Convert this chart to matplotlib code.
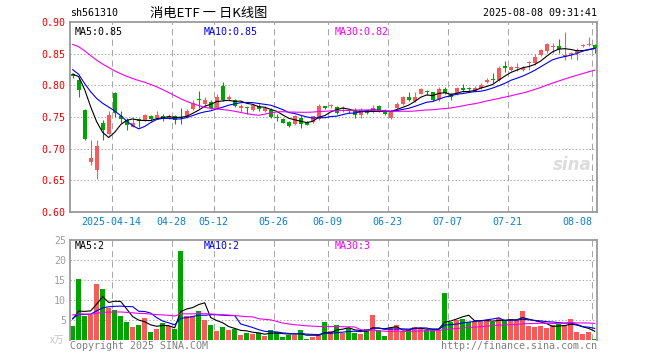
import numpy as np
import pandas as pd
import matplotlib
matplotlib.use("Agg")
import matplotlib.pyplot as plt
from matplotlib.transforms import blended_transform_factory

plt.rcParams["font.family"] = ["DejaVu Sans Mono", "Noto Sans CJK SC"]

# trading days shown: 2025-04-02 .. 2025-08-08, exchange holidays removed
holidays = ["2025-04-04", "2025-05-01", "2025-05-02", "2025-05-05", "2025-06-02"]
dates = pd.bdate_range("2025-04-02", "2025-08-08", freq="C", holidays=holidays)

opens = [0.818, 0.809, 0.761, 0.679, 0.666, 0.741, 0.723, 0.788, 0.752, 0.745,
         0.735, 0.747, 0.745, 0.752, 0.748, 0.752, 0.748, 0.752, 0.750, 0.750,
         0.763, 0.778, 0.770, 0.773, 0.765, 0.799, 0.778, 0.777, 0.765, 0.765,
         0.761, 0.768, 0.760, 0.761, 0.750, 0.747, 0.742, 0.739, 0.748, 0.742,
         0.742, 0.747, 0.766, 0.767, 0.766, 0.763, 0.760, 0.760, 0.753, 0.760,
         0.758, 0.768, 0.760, 0.748, 0.764, 0.770, 0.782, 0.775, 0.787, 0.790,
         0.789, 0.778, 0.794, 0.786, 0.786, 0.796, 0.795, 0.790, 0.796, 0.806,
         0.809, 0.809, 0.831, 0.825, 0.827, 0.824, 0.836, 0.835, 0.848, 0.855,
         0.860, 0.8625, 0.845, 0.849, 0.851, 0.862, 0.863, 0.864]
highs = [0.819, 0.812, 0.763, 0.714, 0.713, 0.745, 0.760, 0.789, 0.759, 0.749,
         0.748, 0.748, 0.754, 0.753, 0.759, 0.754, 0.755, 0.753, 0.764, 0.762,
         0.777, 0.791, 0.781, 0.777, 0.787, 0.805, 0.785, 0.778, 0.770, 0.766,
         0.770, 0.770, 0.768, 0.764, 0.755, 0.748, 0.743, 0.753, 0.753, 0.744,
         0.752, 0.771, 0.768, 0.770, 0.767, 0.768, 0.763, 0.764, 0.764, 0.761,
         0.769, 0.769, 0.763, 0.761, 0.773, 0.783, 0.790, 0.790, 0.796, 0.792,
         0.790, 0.797, 0.798, 0.788, 0.798, 0.802, 0.797, 0.799, 0.803, 0.811,
         0.820, 0.830, 0.839, 0.830, 0.835, 0.830, 0.838, 0.849, 0.857, 0.867,
         0.867, 0.873, 0.884, 0.853, 0.859, 0.865, 0.876, 0.866]
lows = [0.811, 0.781, 0.714, 0.674, 0.652, 0.713, 0.721, 0.750, 0.741, 0.730,
        0.734, 0.734, 0.744, 0.743, 0.747, 0.743, 0.747, 0.739, 0.739, 0.749,
        0.761, 0.765, 0.766, 0.762, 0.763, 0.775, 0.776, 0.766, 0.758, 0.754,
        0.760, 0.759, 0.758, 0.748, 0.743, 0.740, 0.735, 0.738, 0.733, 0.737,
        0.741, 0.746, 0.762, 0.765, 0.755, 0.758, 0.757, 0.748, 0.748, 0.755,
        0.757, 0.758, 0.753, 0.747, 0.763, 0.769, 0.775, 0.774, 0.786, 0.785,
        0.776, 0.776, 0.786, 0.777, 0.785, 0.790, 0.790, 0.789, 0.795, 0.803,
        0.804, 0.807, 0.821, 0.822, 0.822, 0.822, 0.824, 0.832, 0.847, 0.851,
        0.851, 0.851, 0.840, 0.842, 0.840, 0.860, 0.862, 0.851]
closes = [0.814, 0.793, 0.715, 0.686, 0.704, 0.730, 0.753, 0.756, 0.747, 0.738,
          0.741, 0.743, 0.753, 0.747, 0.753, 0.748, 0.752, 0.746, 0.749, 0.760,
          0.772, 0.777, 0.777, 0.764, 0.782, 0.777, 0.782, 0.768, 0.767, 0.764,
          0.769, 0.763, 0.764, 0.750, 0.749, 0.741, 0.736, 0.752, 0.739, 0.738,
          0.751, 0.768, 0.765, 0.768, 0.756, 0.764, 0.759, 0.753, 0.761, 0.756,
          0.765, 0.759, 0.754, 0.760, 0.771, 0.782, 0.777, 0.782, 0.794, 0.789,
          0.777, 0.794, 0.788, 0.781, 0.796, 0.792, 0.794, 0.796, 0.800, 0.809,
          0.808, 0.828, 0.827, 0.829, 0.828, 0.827, 0.837, 0.844, 0.856, 0.866,
          0.8625, 0.857, 0.848, 0.850, 0.856, 0.863, 0.864, 0.859]
volumes = [3.5, 15.25, 6, 6.2, 14, 12.75, 8, 7.5, 6, 4.5,
           3.2, 3.7, 5.5, 2, 2.75, 4.2, 3.5, 2.8, 22.25, 6,
           6, 7.25, 5, 3.75, 2.3, 3.25, 2.5, 2.7, 1.25, 1.75,
           1.5, 1.75, 1.0, 2.5, 2.0, 0.75, 1.25, 1.25, 2.5, 0.25,
           0.75, 1.25, 4.5, 2.25, 3.75, 1.8, 3.1, 1.75, 1.5, 2.75,
           6.25, 2.5, 1.0, 3.0, 3.75, 2.25, 2.5, 3.25, 3.0, 2.5,
           2.5, 2.5, 11.75, 4.5, 5.0, 5.25, 4.5, 4.75, 4.75, 5.0,
           4.5, 5.5, 5.0, 5.25, 5.0, 7.25, 3.5, 3.25, 3.5, 3.0,
           3.75, 4.0, 3.75, 5.25, 2.0, 1.5, 2.0, 0.25]

# the 29 sessions before the window, estimated from where the MA lines start
pre_close = [0.905, 0.910, 0.915, 0.918, 0.915, 0.912, 0.920,
             0.880, 0.860, 0.845, 0.840, 0.835,
             0.850, 0.865, 0.880, 0.890, 0.893, 0.897,
             0.885, 0.878, 0.868, 0.861,
             0.815, 0.810, 0.806, 0.812, 0.818, 0.822, 0.822]
pre_vol = [7.5, 6.8, 8.2, 6.0, 5.5, 7.0, 6.2, 5.8, 7.4, 6.6,
           8.0, 6.5, 5.9, 7.1, 6.3, 6.9, 7.7, 6.1, 5.6, 6.4,
           5.2, 6.1, 5.5, 5.8, 5.15, 5.4, 6.3, 5.6, 5.45]

tick_days = ["2025-04-14", "2025-04-28", "2025-05-12", "2025-05-26", "2025-06-09",
             "2025-06-23", "2025-07-07", "2025-07-21", "2025-08-08"]
tick_labels = ["2025-04-14", "04-28", "05-12", "05-26", "06-09",
               "06-23", "07-07", "07-21", "08-08"]
price_ticks = [0.60, 0.65, 0.70, 0.75, 0.80, 0.85, 0.90]
vol_ticks = [5, 10, 15, 20, 25]

RED = "#F65B5B"
GREEN = "#00A300"
GRID = "#A8A8A8"
FRAME = "#9A9A9A"


def ma(seq, n, pre):
    full = np.r_[pre, seq]
    out = np.convolve(full, np.ones(n) / n, mode="valid")
    return out[-len(seq):]


o = np.array(opens)
h = np.array(highs)
l = np.array(lows)
c = np.array(closes)
v = np.array(volumes)
x = np.arange(len(c))
cols = np.where(c >= o, RED, GREEN)
tick_pos = [dates.get_loc(pd.Timestamp(d)) for d in tick_days]

W, H = 660, 360
fig = plt.figure(figsize=(6.6, 3.6), dpi=100)
ax = fig.add_axes([70 / W, 1 - 212 / H, 527 / W, 190 / H])
axv = fig.add_axes([70 / W, 1 - 340 / H, 527 / W, 100 / H])

xmin, xmax = -0.45, 87.38
for a in (ax, axv):
    a.set_xlim(xmin, xmax)
    a.set_xticks([])
    for s in a.spines.values():
        s.set_color(FRAME)
        s.set_linewidth(1.3)
    for p in tick_pos:
        a.axvline(p - 0.4, color=GRID, lw=0.75, ls=(0, (6, 4)), zorder=0)
    a.tick_params(axis="y", length=0, pad=3, labelsize=7.2)
axv.spines["bottom"].set_visible(False)

# price panel
ax.set_ylim(0.60, 0.90)
ax.set_yticks(price_ticks)
ax.set_yticklabels([f"{t:.2f}" for t in price_ticks], color="#F00000")
for t in price_ticks[1:-1]:
    ax.axhline(t, color=GRID, lw=0.75, ls=(0, (1.3, 2)), zorder=0)

ax.vlines(x, l, h, colors=cols, lw=0.8, zorder=2)
body = np.maximum(np.abs(c - o), 0.0016)
ax.bar(x, body, bottom=np.minimum(o, c), width=0.72, color=cols, lw=0, zorder=3)

ax.plot(x, ma(c, 5, pre_close), color="black", lw=0.8, zorder=4)
ax.plot(x, ma(c, 10, pre_close), color="#0000F0", lw=0.8, zorder=4)
ax.plot(x, ma(c, 30, pre_close), color="#F000F0", lw=0.8, zorder=4)

ax.text(5 / 527, 1 - 5 / 190, "MA5:0.85", transform=ax.transAxes, fontsize=7.2,
        color="black", va="top", ha="left")
ax.text(134 / 527, 1 - 5 / 190, "MA10:0.85", transform=ax.transAxes, fontsize=7.2,
        color="#0000F0", va="top", ha="left")
ax.text(265 / 527, 1 - 5 / 190, "MA30:0.82", transform=ax.transAxes, fontsize=7.2,
        color="#F000F0", va="top", ha="left")

tr = blended_transform_factory(ax.transData, ax.transAxes)
for i, (p, lab) in enumerate(zip(tick_pos, tick_labels)):
    last = i == len(tick_pos) - 1
    ax.text(p - 0.4 if last else p - 0.5, -10 / 190, lab, transform=tr, fontsize=7.2,
            color="#0A7FD0", ha="right" if last else "center", va="center")

ax.text(0.99, 0.245, "sina", transform=ax.transAxes, fontsize=12, color="#DCDCDC",
        ha="right", va="center", style="italic", weight="bold", family="DejaVu Sans")

# volume panel
axv.set_ylim(0, 25)
axv.set_yticks(vol_ticks)
axv.set_yticklabels([str(t) for t in vol_ticks], color="#A0A0A0")
for t in vol_ticks[:-1]:
    axv.axhline(t, color=GRID, lw=0.75, ls=(0, (1.3, 2)), zorder=0)
axv.bar(x, v, width=0.8, color=cols, lw=0, zorder=2)
axv.plot(x, ma(v, 5, pre_vol), color="black", lw=0.8, zorder=4)
axv.plot(x, ma(v, 10, pre_vol), color="#0000F0", lw=0.8, zorder=4)
axv.plot(x, ma(v, 30, pre_vol), color="#F000F0", lw=0.8, zorder=4)

axv.text(5 / 527, 1 - 1 / 100, "MA5:2", transform=axv.transAxes, fontsize=7.2,
         color="black", va="top", ha="left")
axv.text(134 / 527, 1 - 1 / 100, "MA10:2", transform=axv.transAxes, fontsize=7.2,
         color="#0000F0", va="top", ha="left")
axv.text(265 / 527, 1 - 1 / 100, "MA30:3", transform=axv.transAxes, fontsize=7.2,
         color="#F000F0", va="top", ha="left")

# header and footer
fig.text(70 / W, 1 - 13 / H, "sh561310", fontsize=7.2, ha="left", va="center")
fig.text(209 / W, 1 - 13 / H, "消电ETF 一 日K线图", fontsize=9.5, ha="center",
         va="center", family=["Noto Sans CJK SC", "DejaVu Sans"])
fig.text(597 / W, 1 - 13 / H, "2025-08-08 09:31:41", fontsize=7.2, ha="right", va="center")
fig.text(64 / W, 1 - 340 / H, "x万", fontsize=7, ha="right", va="center", color="#C4C4C4",
         family=["Noto Sans CJK SC", "DejaVu Sans"])
fig.text(70 / W, 1 - 346 / H, "Copyright 2025 SINA.COM", fontsize=7.2, ha="left",
         va="center", color="#808080")
fig.text(597 / W, 1 - 346 / H, "http://finance.sina.com.cn", fontsize=7.2, ha="right",
         va="center", color="#808080")

fig.savefig("out.png", dpi=100)
